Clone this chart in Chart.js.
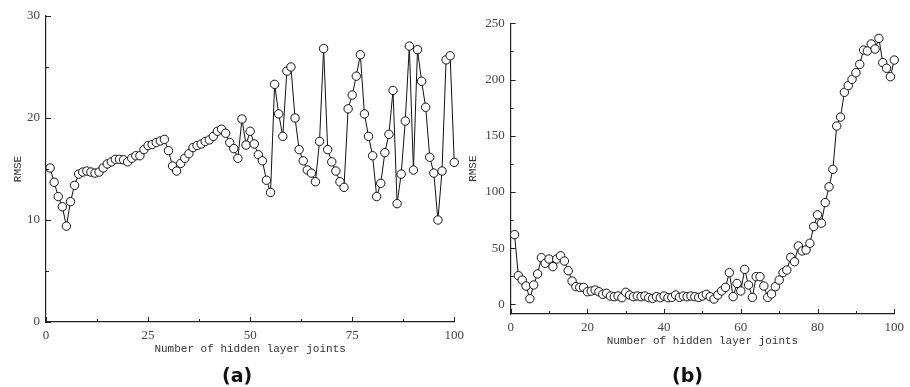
<!DOCTYPE html>
<html><head><meta charset="utf-8">
<script src="https://cdn.jsdelivr.net/npm/chart.js@4.4.1/dist/chart.umd.min.js"></script>
<style>
html,body{margin:0;padding:0;background:#fff;width:910px;height:387px;overflow:hidden;}
#wa{position:absolute;left:0;top:0;width:470px;height:387px;}
#wb{position:absolute;left:455px;top:0;width:455px;height:387px;}
.lab{position:absolute;font-family:'DejaVu Sans',sans-serif;font-weight:bold;font-size:19px;color:#111;line-height:22px;}
</style></head><body>
<div id="wa"><canvas id="ca"></canvas></div>
<div id="wb"><canvas id="cb"></canvas></div>
<div class="lab" style="left:222px;top:364px">(a)</div>
<div class="lab" style="left:672px;top:364px">(b)</div>
<script>
// ---- data ----
const joints = [1,2,3,4,5,6,7,8,9,10,11,12,13,14,15,16,17,18,19,20,21,22,23,24,25,26,27,28,29,30,31,32,33,34,35,36,37,38,39,40,41,42,43,44,45,46,47,48,49,50,51,52,53,54,55,56,57,58,59,60,61,62,63,64,65,66,67,68,69,70,71,72,73,74,75,76,77,78,79,80,81,82,83,84,85,86,87,88,89,90,91,92,93,94,95,96,97,98,99,100];
const rmseA = [15.1,13.7,12.3,11.3,9.4,11.8,13.4,14.5,14.7,14.8,
14.7,14.6,14.7,15.1,15.5,15.7,15.95,15.95,15.9,15.7,
16.05,16.3,16.3,16.9,17.3,17.4,17.6,17.75,17.9,16.8,
15.3,14.8,15.55,16.05,16.5,17.1,17.3,17.45,17.7,17.85,
18.2,18.7,18.9,18.5,17.6,17.0,16.05,19.9,17.35,18.7,
17.45,16.4,15.8,13.9,12.7,23.3,20.4,18.2,24.6,25.0,
20.0,16.9,15.8,14.9,14.6,13.75,17.7,26.8,16.9,15.7,
14.8,13.75,13.2,20.9,22.25,24.1,26.2,20.4,18.2,16.3,
12.3,13.6,16.6,18.4,22.7,11.6,14.5,19.7,27.05,14.9,
26.7,23.6,21.05,16.15,14.6,10.0,14.8,25.7,26.1,15.65];
const rmseB = [62,25.5,21.6,16.3,5.0,17.2,27.0,41.5,36.5,40.3,
33.5,40.3,43.2,38.5,29.9,20.7,15.7,15.1,15.1,11.2,
11.8,12.7,11.2,8.9,9.8,7.4,6.8,7.4,5.9,10.7,
8.3,6.8,7.4,6.8,7.4,5.9,5.3,6.8,5.9,7.4,
5.9,6.2,8.3,6.2,7.4,6.8,7.4,6.8,6.2,7.4,
8.9,6.8,4.7,8.3,11.9,15.1,28.2,6.8,18.6,11.9,
31.1,17.2,6.2,24.6,24.6,16.3,6.2,9.2,15.7,21.6,
28.2,30.5,41.8,37.9,51.9,47.5,48.4,54.3,69.2,79.6,
72.2,90.5,104.5,120.1,158.6,166.6,188.6,194.5,200.2,206,
213.5,226.2,225.4,231.6,227.1,236.6,215,210,202.5,217.3];
const xTicksA = [0,12.5,25,37.5,50,62.5,75,87.5,100];
const xLabelsA = [0,25,50,75,100];
const yTicksA = [0,5,10,15,20,25,30];
const yLabelsA = [0,10,20,30];
const xTicksB = [0,10,20,30,40,50,60,70,80,90,100];
const xLabelsB = [0,20,40,60,80,100];
const yTicksB = [0,25,50,75,100,125,150,175,200,225,250];
const yLabelsB = [0,50,100,150,200,250];
const xTitle = 'Number of hidden layer joints';
const yTitle = 'RMSE';

// ---- inward tick marks drawn from the chart's own scales ----
const innerTicks = {
  id:'innerTicks',
  afterDraw(chart, args, opts){
    const ctx = chart.ctx, a = chart.chartArea;
    const xs = chart.scales.x, ys = chart.scales.y;
    ctx.save();
    ctx.strokeStyle = '#222'; ctx.lineWidth = 1;
    xs.ticks.forEach(t=>{
      const p = Math.round(xs.getPixelForValue(t.value)) + 0.5;
      const L = opts.xMajor.includes(t.value) ? 5 : 3;
      ctx.beginPath(); ctx.moveTo(p, a.bottom); ctx.lineTo(p, a.bottom - L); ctx.stroke();
    });
    ys.ticks.forEach(t=>{
      const p = Math.round(ys.getPixelForValue(t.value)) + 0.5;
      const L = opts.yMajor.includes(t.value) ? 5 : 3;
      ctx.beginPath(); ctx.moveTo(a.left, p); ctx.lineTo(a.left + L, p); ctx.stroke();
    });
    ctx.restore();
  }
};

const tickFont = {family:"'Liberation Serif', serif", size:13};
const titleFont = {family:"'Liberation Mono', monospace", size:11};

function makeChart(id, vals, cfg){
  return new Chart(document.getElementById(id), {
    type:'line',
    data:{ datasets:[{
      data: joints.map((j,i)=>({x:j, y:vals[i]})),
      borderColor:'#111', borderWidth:1, tension:0,
      pointRadius:4.2, pointHoverRadius:4.2, pointBorderWidth:1,
      pointBackgroundColor:'#fff', pointBorderColor:'#111', clip:false
    }]},
    options:{
      responsive:true, maintainAspectRatio:false, animation:false, devicePixelRatio:1,
      layout:{padding:cfg.pad},
      plugins:{legend:{display:false}, tooltip:{enabled:false},
        innerTicks:{xMajor:cfg.xLabels, yMajor:cfg.yLabels}},
      scales:{
        x:{ type:'linear', min:0, max:100,
          afterBuildTicks:s=>{ s.ticks = cfg.xTicks.map(v=>({value:v})); },
          afterFit:s=>{ s.height = cfg.xH; },
          ticks:{ autoSkip:false, maxRotation:0, padding:cfg.xPad, color:'#444', font:tickFont,
            callback:v=> cfg.xLabels.includes(v) ? String(v) : '' },
          grid:{display:true, drawOnChartArea:false, drawTicks:false},
          border:{display:true, color:'#222', width:1.2},
          title:{display:true, text:xTitle, color:'#333', font:titleFont, padding:{top:0,bottom:cfg.xTitlePad}}
        },
        y:{ type:'linear', min:cfg.yMin, max:cfg.yMax,
          afterBuildTicks:s=>{ s.ticks = cfg.yTicks.map(v=>({value:v})); },
          afterFit:s=>{ s.width = cfg.yW; },
          ticks:{ autoSkip:false, padding:6, color:'#444', font:tickFont,
            callback:v=> cfg.yLabels.includes(v) ? String(v) : '' },
          grid:{display:true, drawOnChartArea:false, drawTicks:false},
          border:{display:true, color:'#222', width:1.2},
          title:{display:true, text:yTitle, color:'#333', font:titleFont, padding:{top:cfg.yTitlePad,bottom:0}}
        }
      }
    },
    plugins:[innerTicks]
  });
}

makeChart('ca', rmseA, {pad:{top:16,right:15,left:0,bottom:0}, xH:65, yW:46,
  xTicks:xTicksA, xLabels:xLabelsA, yTicks:yTicksA, yLabels:yLabelsA, yMin:0, yMax:30,
  xPad:6, xTitlePad:31.5, yTitlePad:11});
makeChart('cb', rmseB, {pad:{top:23.3,right:9.3,left:0,bottom:0}, xH:73, yW:55.7,
  xTicks:xTicksB, xLabels:xLabelsB, yTicks:yTicksB, yLabels:yLabelsB, yMin:-8.6, yMax:250,
  xPad:6, xTitlePad:39.5, yTitlePad:11.4});
</script>
</body></html>
